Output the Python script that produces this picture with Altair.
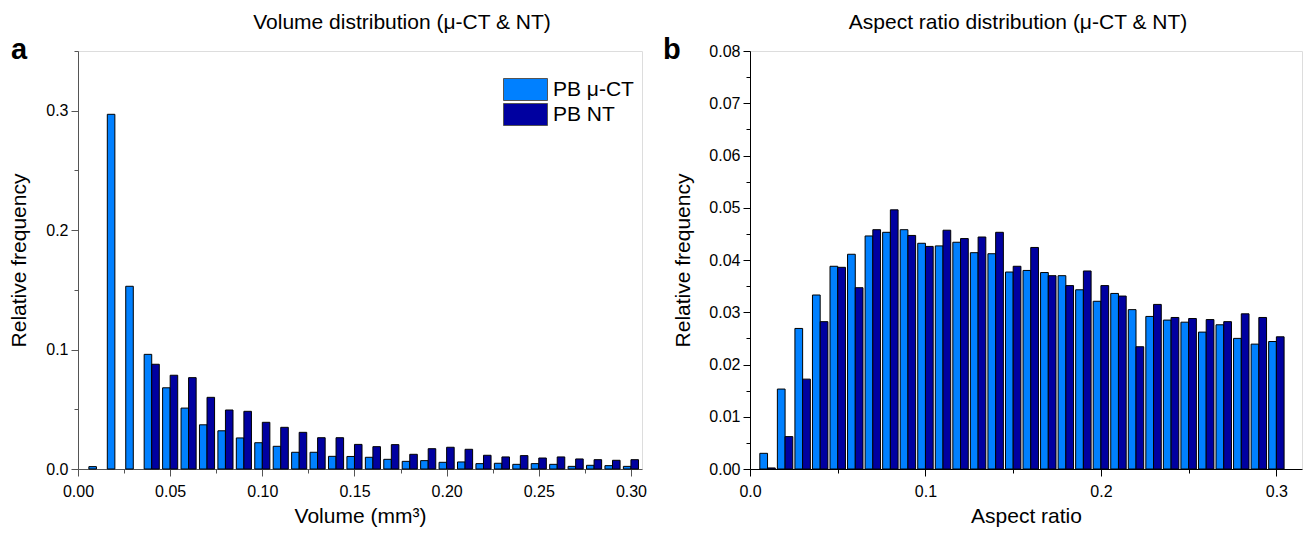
import altair as alt
import pandas as pd

FONT = "Liberation Sans"
SERIES = ["PB μ-CT", "PB NT"]
COLORS = ["#0080FF", "#0000A0"]

# bin centres (shared by both panels)
centers = [0.01, 0.02, 0.03, 0.04, 0.05, 0.06, 0.07, 0.08, 0.09, 0.10,
           0.11, 0.12, 0.13, 0.14, 0.15, 0.16, 0.17, 0.18, 0.19, 0.20,
           0.21, 0.22, 0.23, 0.24, 0.25, 0.26, 0.27, 0.28, 0.29, 0.30]

# panel a: volume distribution
vol_ct = [0.002, 0.297, 0.153, 0.096, 0.068, 0.051, 0.037, 0.032, 0.026, 0.022,
          0.019, 0.014, 0.014, 0.0106, 0.0105, 0.0098, 0.0081, 0.0064, 0.0070, 0.0056,
          0.0059, 0.0045, 0.0048, 0.0039, 0.0045, 0.0039, 0.0022, 0.0031, 0.0028, 0.0022]
vol_nt = [0.0, 0.0, 0.0, 0.0877, 0.0785, 0.0765, 0.060, 0.0494, 0.0483, 0.0391,
          0.0349, 0.0307, 0.0262, 0.0262, 0.0206, 0.0187, 0.0204, 0.0123, 0.0170, 0.0182,
          0.0165, 0.0115, 0.0101, 0.0112, 0.0092, 0.0101, 0.0084, 0.0078, 0.0073, 0.0078]

# panel b: aspect ratio distribution
ar_ct = [0.0030, 0.0153, 0.0269, 0.0333, 0.0388, 0.0411, 0.0446, 0.0453, 0.0458, 0.0432,
         0.0427, 0.0434, 0.0414, 0.0412, 0.0377, 0.0380, 0.0376, 0.0370, 0.0343, 0.0321,
         0.0336, 0.0305, 0.0292, 0.0285, 0.0281, 0.0262, 0.0276, 0.0250, 0.0239, 0.0244]
ar_nt = [0.0002, 0.0062, 0.0172, 0.0282, 0.0386, 0.0347, 0.0458, 0.0496, 0.0447, 0.0426,
         0.0457, 0.0441, 0.0444, 0.0453, 0.0388, 0.0424, 0.0370, 0.0351, 0.0379, 0.0351,
         0.0331, 0.0234, 0.0315, 0.0290, 0.0288, 0.0286, 0.0282, 0.0297, 0.0290, 0.0253]

# axis tick positions / labels
vol_xticks = [0.0, 0.025, 0.05, 0.075, 0.10, 0.125, 0.15, 0.175, 0.20, 0.225, 0.25, 0.275, 0.30]
vol_yticks = [0.0, 0.05, 0.10, 0.15, 0.20, 0.25, 0.30, 0.35]
ar_xticks = [0.0, 0.05, 0.10, 0.15, 0.20, 0.25, 0.30]
ar_yticks = [0.0, 0.005, 0.01, 0.015, 0.02, 0.025, 0.03, 0.035, 0.04, 0.045,
             0.05, 0.055, 0.06, 0.065, 0.07, 0.075, 0.08]


def frame(ct, nt):
    rows = []
    for c, a, b in zip(centers, ct, nt):
        rows.append({"center": c, "value": a, "series": SERIES[0]})
        rows.append({"center": c, "value": b, "series": SERIES[1]})
    return pd.DataFrame(rows)


def axis(values, major_test, fmt, title, color, tpad, lpad, major=7, minor=4):
    return alt.Axis(
        values=values,
        labelExpr=f"({major_test}) ? format(datum.value, '{fmt}') : ''",
        tickSize={"condition": {"test": major_test, "value": major}, "value": minor},
        title=title, grid=False, labelOverlap=False, labelFlush=False,
        domainColor=color, tickColor=color, domainWidth=1, tickWidth=1,
        labelFont=FONT, labelFontSize=16, labelColor="#000", labelPadding=lpad,
        titleFont=FONT, titleFontSize=21, titleFontWeight="normal", titleColor="#000",
        titlePadding=tpad,
    )


def panel(df, half_w, xdom, ydom, xaxis, yaxis, title, dx, letter, letter_x, width):
    bars = alt.Chart(df).transform_filter("datum.value > 0").transform_calculate(
        x0=f"datum.series == 'PB NT' ? datum.center : datum.center - {half_w}",
        x1=f"datum.series == 'PB NT' ? datum.center + {half_w} : datum.center",
    ).mark_bar(stroke="black", strokeWidth=1).encode(
        x=alt.X("x0:Q", scale=alt.Scale(domain=xdom, nice=False, zero=True), axis=xaxis),
        x2="x1:Q",
        y=alt.Y("value:Q", scale=alt.Scale(domain=ydom, nice=False), axis=yaxis),
        y2=alt.datum(0),
        color=alt.Color(
            "series:N",
            scale=alt.Scale(domain=SERIES, range=COLORS),
            legend=alt.Legend(
                title=None, orient="none", legendX=425, legendY=27,
                symbolType="M-1,-1L3,-1L3,1L-1,1Z", symbolSize=484,
                symbolStrokeColor="#555", symbolStrokeWidth=1, symbolOpacity=1,
                labelFont=FONT, labelFontSize=21, labelColor="#000",
                labelOffset=27, rowPadding=-3,
            ),
        ),
    )
    lab = alt.Chart(pd.DataFrame({"t": [letter]})).mark_text(
        align="left", baseline="alphabetic", fontSize=29, fontWeight="bold",
        font=FONT, color="#000",
    ).encode(x=alt.value(letter_x), y=alt.value(8), text="t:N")
    return alt.layer(bars, lab).properties(
        width=width, height=418,
        title=alt.TitleParams(title, font=FONT, fontSize=21, fontWeight="normal",
                              color="#000", anchor="middle", frame="group", dx=dx, offset=3),
    )


left = panel(
    frame(vol_ct, vol_nt), 0.0041, [0, 0.306], [0, 0.35],
    axis(vol_xticks, "round(datum.value*40) % 2 == 0", ".2f", "Volume (mm³)", "#555", 6, 7),
    axis(vol_yticks, "round(datum.value*20) % 2 == 0", ".1f", "Relative frequency", "#555", 16, 3),
    "Volume distribution (μ-CT & NT)", 42, "a", -67, 564,
)
right = panel(
    frame(ar_ct, ar_nt), 0.0044, [0, 0.3146], [0, 0.08],
    axis(ar_xticks, "round(datum.value*20) % 2 == 0", ".1f", "Aspect ratio", "#000", 6, 7),
    axis(ar_yticks, "round(datum.value*200) % 2 == 0", ".2f", "Relative frequency", "#000", 15, 3),
    "Aspect ratio distribution (μ-CT & NT)", -8, "b", -87, 552,
)

chart = alt.hconcat(left, right, spacing=14).properties(
    padding={"left": 0, "top": 3, "right": 0, "bottom": 0}
).configure_view(stroke=None).configure(font=FONT)

chart.save("out.html", embed_options={"renderer": "svg", "actions": False})
